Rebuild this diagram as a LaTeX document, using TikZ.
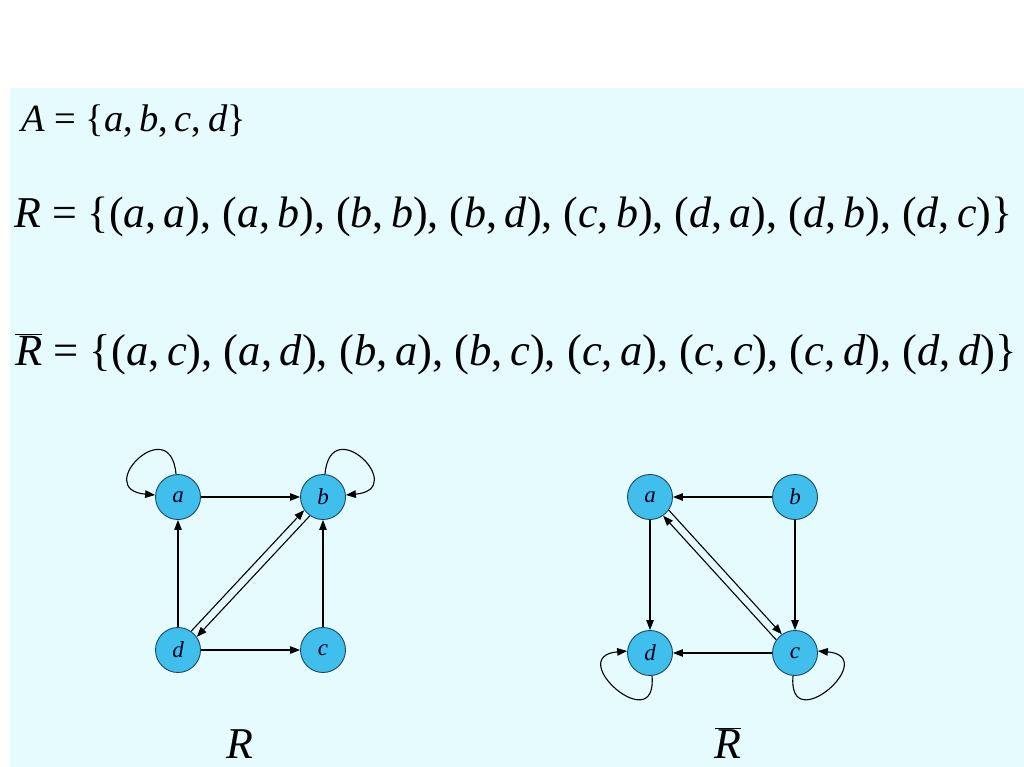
\documentclass[tikz,border=0pt]{standalone}
\usepackage{fontspec}
\setmainfont{Liberation Serif}
\usetikzlibrary{arrows.meta}
\definecolor{bgcyan}{RGB}{230,251,254}
\definecolor{nodefill}{RGB}{64,190,236}
\definecolor{nodeedge}{RGB}{30,70,100}
\newcommand\iv[1]{\textit{#1}}
\newcommand\pr[2]{(\iv{#1},\,\iv{#2})}
\tikzset{
  vtx/.style={circle, draw=nodeedge, fill=nodefill, line width=0.9pt, minimum size=45pt, inner sep=0pt, font=\fontsize{23}{23}\selectfont\itshape, text=black!85!blue},
  arr/.style={line width=1.1pt, -{Triangle[length=10pt,width=7.5pt]}},
  settext/.style={anchor=base west, inner sep=0pt, font=\fontsize{44.6}{44.6}\selectfont},
}
\begin{document}
\begin{tikzpicture}[x=1pt,y=-1pt]
\useasboundingbox (0,0) rectangle (1024,767);
\fill[white] (0,0) rectangle (1024,767);
\fill[bgcyan] (10,88) rectangle (1024,767);
% set texts
\node[anchor=base west, inner sep=0pt, font=\fontsize{38.5}{38.5}\selectfont] (setA) at (21,132) {\iv{A} = \{\iv{a},\,\iv{b},\,\iv{c},\,\iv{d}\}};
\node[settext, font=\fontsize{44}{44}\selectfont] (setR) at (14,227) {\iv{R} = \{\pr aa, \pr ab, \pr bb, \pr bd, \pr cb, \pr da, \pr db, \pr dc\}};
\node[settext] (setRb) at (15,365) {$\overline{\hbox{\iv{R}}}$ = \{\pr ac, \pr ad, \pr ba, \pr bc, \pr ca, \pr cc, \pr cd, \pr dd\}};
% left graph R
\node[vtx] (a) at (178,497) {a};
\node[vtx] (b) at (323,497) {b};
\node[vtx] (d) at (178,650) {d};
\node[vtx] (c) at (323,650) {c};
\draw[arr] (a) -- (b);
\draw[arr] (d) -- (a);
\draw[arr] (c) -- (b);
\draw[arr] (d) -- (c);
\draw[arr] (d.55) -- (b.215);
\draw[arr] (b.235) -- (d.35);
\draw[arr] (a.95) .. controls +(-95:64) and +(-175:64) .. (a.175);
\draw[arr] (b.85) .. controls +(-85:64) and +(-5:64) .. (b.5);
\node[anchor=base, inner sep=0pt, font=\fontsize{44}{44}\selectfont\itshape] (labR) at (240,758) {R};
% right graph complement
\node[vtx] (a2) at (650,497) {a};
\node[vtx] (b2) at (795,497) {b};
\node[vtx] (d2) at (650,653) {d};
\node[vtx] (c2) at (795,653) {c};
\draw[arr] (b2) -- (a2);
\draw[arr] (a2) -- (d2);
\draw[arr] (b2) -- (c2);
\draw[arr] (c2) -- (d2);
\draw[arr] (a2.-35) -- (c2.125);
\draw[arr] (c2.145) -- (a2.-55);
\draw[arr] (d2.-85) .. controls +(85:64) and +(-185:64) .. (d2.175);
\draw[arr] (c2.-95) .. controls +(95:64) and +(5:64) .. (c2.5);
\node[anchor=base, inner sep=0pt, font=\fontsize{44}{44}\selectfont] (labRb) at (728,758) {$\overline{\hbox{\iv{R}}}$};
\end{tikzpicture}
\end{document}
